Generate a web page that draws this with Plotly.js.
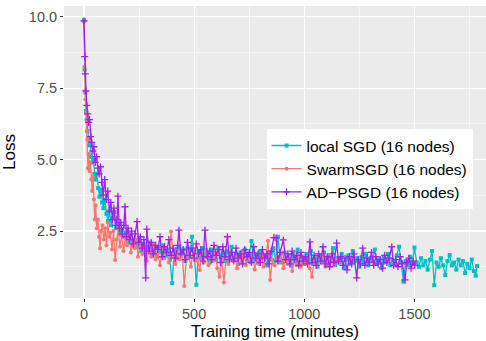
<!DOCTYPE html>
<html><head><meta charset="utf-8">
<script src="https://cdn.plot.ly/plotly-3.0.1.min.js"></script>
<style>html,body{margin:0;padding:0;background:#fff}#chart{width:486px;height:341px}</style>
</head><body><div id="chart"></div>
<script>
const seriesNames = ["local SGD (16 nodes)", "SwarmSGD (16 nodes)", "AD\u2212PSGD (16 nodes)"];
const xTicks = [0, 500, 1000, 1500];
const yTicks = [2.5, 5.0, 7.5, 10.0];

const localX = [0,3,6,9,12,16,20,24,28,32,37,42,47,52,58,64,70,76,82,88,95,102,109,116,123,130,138,146,154,162,170,180,190,200,210,220,230,240,250,260,270,280,290,300,310,320,330,340,350,360,370,380,390,400,410,420,430,440,450,460,470,480,490,500,510,520,530,540,550,560,570,580,590,600,610,620,630,640,650,660,670,680,690,700,710,720,730,740,750,760,770,780,790,800,810,820,830,840,850,860,870,880,890,900,910,920,930,940,950,960,970,980,990,1000,1010,1020,1030,1040,1050,1060,1070,1080,1090,1100,1110,1120,1130,1140,1150,1160,1170,1180,1190,1200,1210,1220,1230,1240,1250,1260,1270,1280,1290,1300,1310,1320,1330,1340,1350,1360,1370,1380,1390,1400,1410,1420,1430,1440,1450,1460,1470,1480,1490,1500,1510,1520,1530,1540,1550,1560,1570,1580,1590,1600,1610,1620,1630,1640,1650,1660,1670,1680,1690,1700,1710,1720,1730,1740,1750,1760,1770,1778,1784];
const localY = [9.88,8.15,7.35,6.7,6.4,6.0,5.75,5.5,5.6,5.1,4.9,5.0,4.5,4.3,4.5,4.0,3.7,3.95,3.5,3.3,3.6,3.1,2.85,3.2,2.7,2.95,3.17,2.6,2.75,2.4,2.55,2.3,2.45,2.1,2.35,2.0,2.2,1.95,2.15,1.8,2.05,1.75,1.95,2.1,1.7,1.9,1.6,1.95,1.75,2.0,1.65,1.85,1.5,0.68,1.8,1.55,1.95,1.7,1.85,1.45,1.9,1.6,2.3,1.75,0.62,1.8,1.55,1.9,1.6,1.75,1.4,1.85,1.65,1.5,1.9,1.6,1.75,1.45,1.8,1.55,1.95,1.5,1.7,1.35,1.75,1.6,1.85,1.45,1.65,2.15,1.5,1.7,1.4,1.8,1.55,1.65,1.3,1.75,1.5,1.9,1.45,2.3,1.6,1.4,1.75,1.5,1.65,1.3,1.7,1.45,1.85,1.4,1.6,1.35,1.7,1.5,1.8,1.4,1.55,1.25,1.65,1.45,1.75,1.35,1.6,1.45,1.9,1.3,1.55,1.4,1.7,1.2,1.5,1.65,1.35,1.8,1.45,1.55,1.25,1.6,1.4,1.7,1.3,1.55,1.45,1.85,1.35,1.5,1.2,1.6,1.4,1.7,1.3,1.5,1.35,1.65,1.95,1.4,0.73,1.45,1.3,1.6,1.35,1.92,1.4,1.25,1.55,1.3,1.45,1.15,1.5,1.8,0.61,1.4,1.25,1.55,1.3,0.96,1.45,1.66,1.3,1.4,1.15,1.5,1.3,1.45,1.03,1.35,1.2,1.5,1.1,0.94,1.28];

const swarmX = [0,2,4,6,9,12,15,18,21,25,29,33,37,41,45,49,53,58,63,68,73,78,84,90,96,102,108,114,120,127,134,141,148,155,163,171,179,187,195,204,213,222,231,240,245,255,265,275,285,295,305,315,325,335,345,355,365,375,385,395,405,415,425,435,445,455,465,475,485,495,505,515,525,535,545,555,565,575,585,595,605,615,625,635,645,655,665,675,685,695,705,715,725,735,745,755,765,775,785,795,805,815,825,835,845,855,865,875,885,895,905,915,925,935,945,955,965,975,985,995,1005,1015,1025,1035,1045,1055,1065,1075,1085,1095,1105,1115,1125,1135,1145,1155,1162];
const swarmY = [9.82,8.25,7.4,7.1,6.6,6.0,5.7,4.7,5.2,4.6,4.9,4.3,3.9,4.4,3.6,2.9,3.4,2.6,2.9,2.3,1.9,2.5,2.7,2.2,2.6,2.0,2.8,2.3,2.45,1.85,2.5,1.49,2.2,2.6,1.95,2.35,1.8,2.25,2.0,2.4,1.75,2.1,1.9,2.2,1.6,2.0,1.7,1.95,1.45,1.85,1.6,2.05,1.5,1.75,1.3,1.9,1.55,1.8,1.4,2.48,1.6,1.35,1.75,1.5,1.85,0.58,1.55,1.7,1.25,1.8,1.45,1.6,1.14,1.7,1.4,1.85,1.3,1.6,1.45,1.75,1.2,0.9,1.55,0.7,1.6,1.35,1.75,1.45,1.6,1.2,1.65,1.4,1.8,1.3,1.55,1.4,1.7,1.15,1.5,1.35,1.65,1.25,1.55,2.16,0.79,1.5,1.3,1.6,1.4,1.7,1.2,1.5,1.35,1.6,1.1,1.45,1.3,1.65,1.25,1.5,1.35,1.6,1.2,0.9,1.45,1.3,1.6,1.4,1.7,1.25,1.5,1.35,1.55,1.3,1.5,1.4,1.55];

const adpsgdX = [0,3,6,9,13,17,21,25,30,35,40,45,51,57,63,69,75,81,87,94,101,108,115,122,129,136,143,150,154,160,167,174,181,186,193,200,208,216,224,232,241,248,256,264,272,280,285,295,305,315,325,335,345,355,365,375,385,395,405,415,425,431,440,450,460,470,480,490,500,510,520,530,540,549,560,570,580,590,600,610,620,630,640,651,660,670,680,690,700,710,720,730,740,750,760,770,780,790,800,810,820,830,840,850,862,872,880,890,905,915,925,935,945,955,965,975,985,995,1005,1015,1026,1035,1045,1055,1065,1075,1085,1095,1105,1115,1125,1135,1147,1155,1165,1175,1185,1194,1205,1215,1225,1238,1245,1255,1265,1275,1285,1295,1305,1315,1325,1335,1345,1355,1365,1375,1385,1397,1405,1415,1425,1435,1445,1457,1465,1475,1485,1495,1502];
const adpsgdY = [9.85,8.6,8.0,7.4,6.9,6.6,6.3,6.4,5.8,5.6,5.3,5.45,4.9,5.1,4.7,4.5,4.75,4.2,3.76,4.3,3.6,3.9,3.2,3.5,2.9,3.3,2.7,2.9,3.72,2.6,2.8,2.4,2.7,3.35,2.3,2.6,2.2,2.5,2.05,2.4,2.83,2.1,2.3,1.9,2.2,0.86,2.57,1.8,2.1,1.7,2.0,1.85,2.3,1.6,1.95,1.75,2.2,1.65,1.9,1.55,2.0,2.53,1.7,1.85,1.5,2.1,1.65,1.9,1.55,2.05,1.7,1.85,1.45,2.53,1.6,1.8,1.5,2.0,1.65,1.85,1.4,1.95,1.6,2.3,1.5,1.75,1.45,1.9,1.55,1.7,1.35,1.85,1.6,1.75,1.4,1.95,1.55,1.7,1.4,1.85,1.55,1.7,1.35,1.8,2.27,2.25,1.45,1.75,2.19,1.5,1.7,1.35,1.8,1.5,1.65,1.3,1.75,1.45,1.6,1.35,2.12,1.4,1.65,1.3,1.7,1.45,1.95,1.35,1.6,1.25,1.7,1.4,2.08,1.45,1.6,1.3,1.55,1.14,1.6,1.35,1.7,0.86,1.5,1.35,1.9,1.3,1.55,1.4,1.75,1.3,1.6,1.35,1.5,1.2,1.65,1.4,1.55,1.95,1.3,1.5,1.25,1.6,1.35,0.79,1.4,1.55,1.2,1.45,1.3];

const colors = ["#00BFC4", "#F8766D", "#A020F0"];

const traces = [
  {x: localX, y: localY, name: seriesNames[0], type: "scatter", mode: "lines+markers",
   line: {color: colors[0], width: 1.3}, marker: {symbol: "square", size: 4, color: colors[0]}},
  {x: swarmX, y: swarmY, name: seriesNames[1], type: "scatter", mode: "lines+markers",
   line: {color: colors[1], width: 1.3}, marker: {symbol: "circle", size: 4, color: colors[1]}},
  {x: adpsgdX, y: adpsgdY, name: seriesNames[2], type: "scatter", mode: "lines+markers",
   line: {color: colors[2], width: 1.3}, marker: {symbol: "cross-thin-open", size: 5, color: colors[2], line: {color: colors[2], width: 1.3}}}
];

const layout = {
  width: 486, height: 341,
  margin: {l: 64, r: 0, t: 6, b: 43},
  paper_bgcolor: "#ffffff",
  plot_bgcolor: "#EBEBEB",
  font: {family: "Liberation Sans, Arial, sans-serif", color: "#000"},
  xaxis: {
    range: [-90.8, 1824.8], tickvals: xTicks, ticktext: xTicks.map(String),
    showgrid: true, gridcolor: "#ffffff", gridwidth: 1.2, zeroline: false, showline: false,
    ticks: "outside", ticklen: 3, tickcolor: "#333333", tickwidth: 1,
    tickfont: {size: 14.5, color: "#4D4D4D"},
    minor: {tickvals: [250, 750, 1250, 1750], showgrid: true, gridcolor: "#ffffff", gridwidth: 0.6, ticks: ""},
    title: {text: "Training time (minutes)", font: {size: 16.5, color: "#000"}, standoff: 2}
  },
  yaxis: {
    range: [0.157, 10.374], tickvals: yTicks, ticktext: yTicks.map(v => v.toFixed(1)),
    showgrid: true, gridcolor: "#ffffff", gridwidth: 1.2, zeroline: false, showline: false,
    ticks: "outside", ticklen: 3, tickcolor: "#333333", tickwidth: 1,
    tickfont: {size: 14.5, color: "#4D4D4D"},
    minor: {tickvals: [1.25, 3.75, 6.25, 8.75], showgrid: true, gridcolor: "#ffffff", gridwidth: 0.6, ticks: ""},
    title: {text: "Loss", font: {size: 17, color: "#000"}, standoff: 8}
  },
  showlegend: true,
  legend: {
    x: 0.48, y: 0.579, xanchor: "left", yanchor: "top",
    bgcolor: "#ffffff", borderwidth: 0,
    font: {size: 15.5, color: "#000"}, itemwidth: 30, tracegroupgap: 0
  }
};

Plotly.newPlot("chart", traces, layout, {displayModeBar: false, staticPlot: true});
</script>
</body></html>
